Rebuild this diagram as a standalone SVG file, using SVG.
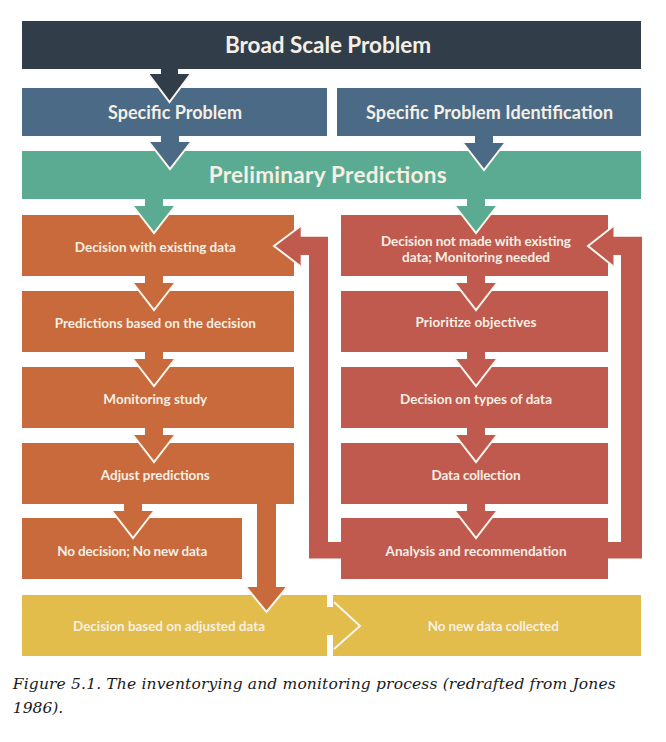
<svg xmlns="http://www.w3.org/2000/svg" width="666" height="742" viewBox="0 0 666 742">
<style>
.t{font-family:Lato,"Open Sans","DejaVu Sans",sans-serif;font-weight:bold;fill:#f5efe4;text-anchor:middle}
.big{font-size:22.5px}
.med{font-size:18px}
.sm{font-size:13.5px}
.dark{fill:#313d48}
.blue{fill:#4b6a86}
.teal{fill:#5bab92}
.orange{fill:#c86a3b}
.red{fill:#c05a4f}
.yellow{fill:#e2bd4b}
.ol{fill:none;stroke:#fbf6ee;stroke-width:2;stroke-linejoin:miter}
.cap{font-family:"DejaVu Serif","Liberation Serif",serif;font-style:italic;font-size:15.5px;fill:#1a1a1a}
</style>
<rect width="666" height="742" fill="#ffffff"/>
<g id="broad-scale-problem"><rect class="dark" x="22" y="21" width="619" height="48"/><text class="t big" x="328" y="52.5" textLength="206" lengthAdjust="spacing">Broad Scale Problem</text></g>
<g id="specific-problem"><rect class="blue" x="22" y="88" width="305" height="48"/><text class="t med" x="175" y="119" textLength="134" lengthAdjust="spacing">Specific Problem</text></g>
<g id="specific-problem-identification"><rect class="blue" x="337" y="88" width="304" height="48"/><text class="t med" x="489.6" y="119" textLength="247" lengthAdjust="spacing">Specific Problem Identification</text></g>
<g id="preliminary-predictions"><rect class="teal" x="22" y="151" width="619" height="48"/><text class="t big" x="327.7" y="182.5" textLength="238" lengthAdjust="spacing">Preliminary Predictions</text></g>
<g id="decision-existing"><rect class="orange" x="22" y="215" width="272" height="61"/><text class="t sm" x="155.3" y="251.5" textLength="161" lengthAdjust="spacing">Decision with existing data</text></g>
<g id="predictions-decision"><rect class="orange" x="22" y="291" width="272" height="61"/><text class="t sm" x="155.3" y="327.5" textLength="201" lengthAdjust="spacing">Predictions based on the decision</text></g>
<g id="monitoring-study"><rect class="orange" x="22" y="367" width="272" height="61"/><text class="t sm" x="155.3" y="403.5">Monitoring study</text></g>
<g id="adjust-predictions"><rect class="orange" x="22" y="443" width="272" height="61"/><text class="t sm" x="155.3" y="480" textLength="109" lengthAdjust="spacing">Adjust predictions</text></g>
<g id="no-decision"><rect class="orange" x="22" y="518" width="220" height="61"/><text class="t sm" x="132.3" y="555.7" textLength="150" lengthAdjust="spacing">No decision; No new data</text></g>
<g id="decision-not-made"><rect class="red" x="341" y="215" width="267" height="61"/><text class="t sm" x="476" y="246" textLength="190" lengthAdjust="spacing">Decision not made with existing</text><text class="t sm" x="476" y="261.5" textLength="148" lengthAdjust="spacing">data; Monitoring needed</text></g>
<g id="prioritize-objectives"><rect class="red" x="341" y="291" width="267" height="61"/><text class="t sm" x="476" y="327.3" textLength="121" lengthAdjust="spacing">Prioritize objectives</text></g>
<g id="decision-types"><rect class="red" x="341" y="367" width="267" height="61"/><text class="t sm" x="476" y="403.5">Decision on types of data</text></g>
<g id="data-collection"><rect class="red" x="341" y="443" width="267" height="61"/><text class="t sm" x="476" y="479.5" textLength="89" lengthAdjust="spacing">Data collection</text></g>
<g id="analysis-recommendation"><rect class="red" x="341" y="518" width="267" height="61"/><text class="t sm" x="476" y="555.7" textLength="181" lengthAdjust="spacing">Analysis and recommendation</text></g>
<g id="decision-adjusted"><rect class="yellow" x="22" y="595" width="305" height="61"/><text class="t sm" x="169" y="631" textLength="192" lengthAdjust="spacing">Decision based on adjusted data</text></g>
<g id="no-new-data"><rect class="yellow" x="333" y="595" width="308" height="61"/><text class="t sm" x="493.3" y="631" textLength="131" lengthAdjust="spacing">No new data collected</text></g>
<g id="connectors">
<polygon class="dark" points="161,66 178,66 178,74 190.5,74 169.5,102 148.5,74 161,74"/><polyline class="ol" points="148.5,74 169.5,102 190.5,74"/>
<polygon class="blue" points="161,133 179,133 179,142 191,142 170,169 149,142 161,142"/><polyline class="ol" points="149,142 170,169 191,142"/>
<polygon class="blue" points="475,133 493,133 493,143 505,143 484,170 463,143 475,143"/><polyline class="ol" points="463,143 484,170 505,143"/>
<polygon class="teal" points="145,196 163,196 163,206 175,206 154,233 133,206 145,206"/><polyline class="ol" points="133,206 154,233 175,206"/>
<polygon class="teal" points="467,196 485,196 485,206 497,206 476,233 455,206 467,206"/><polyline class="ol" points="455,206 476,233 497,206"/>
<polygon class="orange" points="145,273 163,273 163,283 175,283 154,310 133,283 145,283"/><polyline class="ol" points="133,283 154,310 175,283"/>
<polygon class="orange" points="145,349 163,349 163,359 175,359 154,386 133,359 145,359"/><polyline class="ol" points="133,359 154,386 175,359"/>
<polygon class="orange" points="145,425 163,425 163,435 175,435 154,462 133,435 145,435"/><polyline class="ol" points="133,435 154,462 175,435"/>
<polygon class="orange" points="124,501 142,501 142,511 154,511 133,538 112,511 124,511"/><polyline class="ol" points="112,511 133,538 154,511"/>
<polygon class="red" points="467,273 485,273 485,283 497,283 476,310 455,283 467,283"/><polyline class="ol" points="455,283 476,310 497,283"/>
<polygon class="red" points="467,349 485,349 485,359 497,359 476,386 455,359 467,359"/><polyline class="ol" points="455,359 476,386 497,359"/>
<polygon class="red" points="467,425 485,425 485,435 497,435 476,462 455,435 467,435"/><polyline class="ol" points="455,435 476,462 497,435"/>
<polygon class="red" points="467,501 485,501 485,511 497,511 476,538 455,511 467,511"/><polyline class="ol" points="455,511 476,538 497,511"/>
<polygon class="orange" points="257,500 276,500 276,587 287,587 266.5,612 246,587 257,587"/><polyline class="ol" points="246,587 266.5,612 287,587"/>
<polygon class="red" points="274,246 300.7,226 300.7,236.7 328,236.7 328,542 345,542 345,558.5 309,558.5 309,255 300.7,255 300.7,266.5"/><polyline class="ol" points="300.7,226 274,246 300.7,266.5"/>
<polygon class="red" points="588,246 613.5,226 613.5,236.7 642,236.7 642,558.5 604,558.5 604,542 621,542 621,255 613.5,255 613.5,266.5"/><polyline class="ol" points="613.5,226 588,246 613.5,266.5"/>
<polygon class="yellow" points="325,607 334,607 334,602 360,626 334,649 334,635 325,635"/><polyline class="ol" points="334,602 360,626 334,649"/>
</g>
<text class="cap" x="12.8" y="689.3" textLength="603" lengthAdjust="spacing">Figure 5.1. The inventorying and monitoring process (redrafted from Jones</text>
<text class="cap" x="12.8" y="713.3">1986).</text>
</svg>
